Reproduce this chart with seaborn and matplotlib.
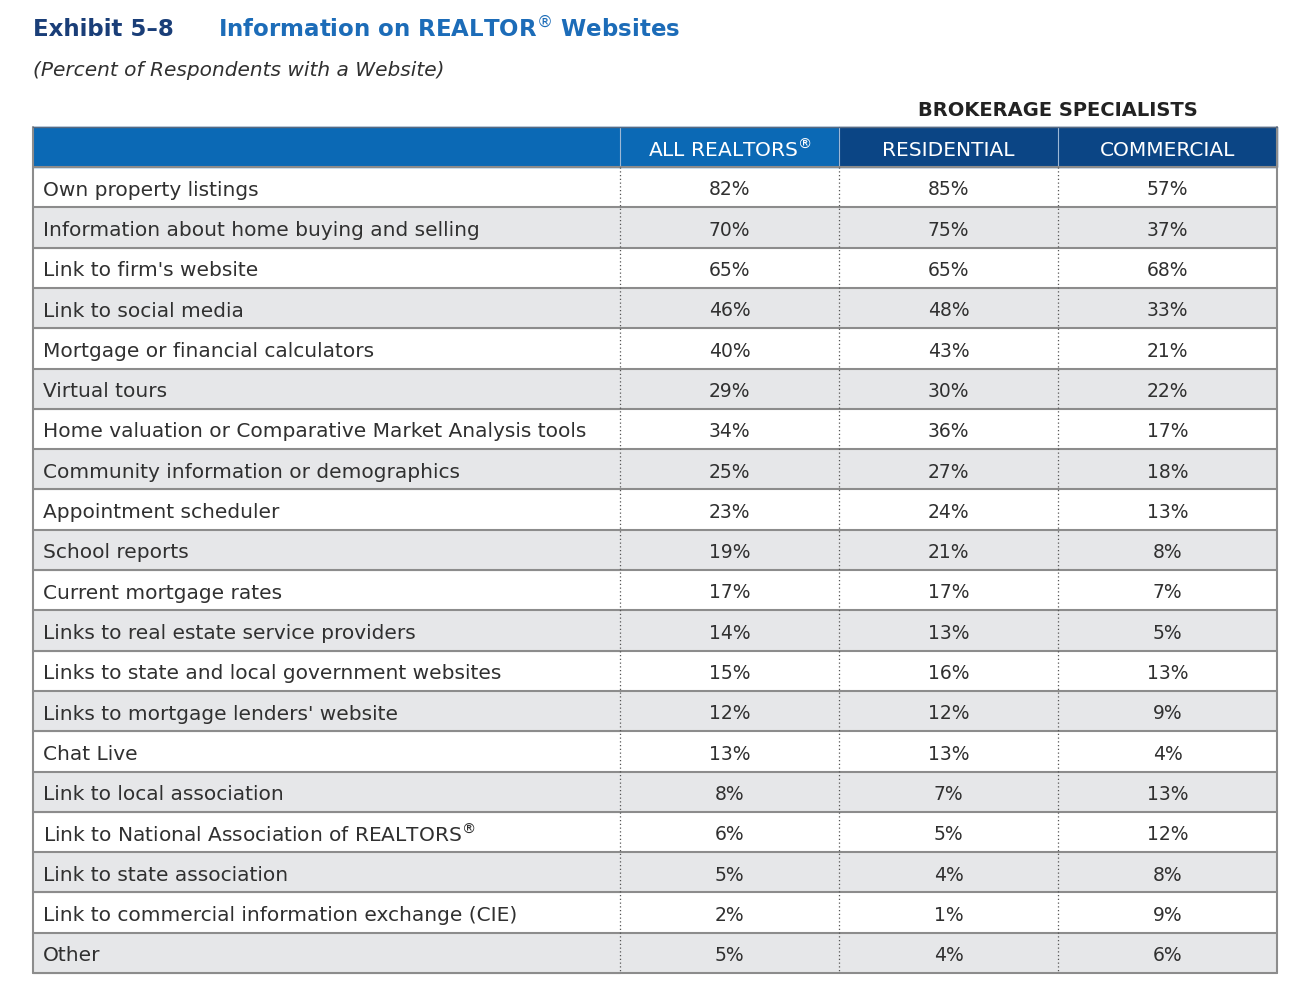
import numpy as np
import matplotlib
matplotlib.use("Agg")
import matplotlib.pyplot as plt
from matplotlib.colors import ListedColormap
from matplotlib.patches import Rectangle
import seaborn as sns

features = [
    "Own property listings",
    "Information about home buying and selling",
    "Link to firm's website",
    "Link to social media",
    "Mortgage or financial calculators",
    "Virtual tours",
    "Home valuation or Comparative Market Analysis tools",
    "Community information or demographics",
    "Appointment scheduler",
    "School reports",
    "Current mortgage rates",
    "Links to real estate service providers",
    "Links to state and local government websites",
    "Links to mortgage lenders' website",
    "Chat Live",
    "Link to local association",
    r"Link to National Association of REALTORS$^{\circledR}$",
    "Link to state association",
    "Link to commercial information exchange (CIE)",
    "Other",
]
all_realtors = [82, 70, 65, 46, 40, 29, 34, 25, 23, 19, 17, 14, 15, 12, 13, 8, 6, 5, 2, 5]
residential = [85, 75, 65, 48, 43, 30, 36, 27, 24, 21, 17, 13, 16, 12, 13, 7, 5, 4, 1, 4]
commercial = [57, 37, 68, 33, 21, 22, 17, 18, 13, 8, 7, 5, 13, 9, 4, 13, 12, 8, 9, 6]
columns = [r"ALL REALTORS$^{\circledR}$", "RESIDENTIAL", "COMMERCIAL"]

sns.set_style("white")
plt.rcParams["font.family"] = ["DejaVu Sans"]

TEXT = "#303030"
STRIPE = "#E6E7E9"
LINE = "#8C8C8C"
BRIGHT = "#0B69B5"
NAVY = "#0B4585"

W, H = 1300, 998
fig = plt.figure(figsize=(13, 9.98), dpi=100)

# table geometry in pixels
x0, xl, xr = 33, 620, 1277
cw = (xr - xl) / 3
y_head, y_body, y_end = 127, 167, 973
n = len(features)
rh = (y_end - y_body) / n

# value cells as a seaborn heatmap (stripe pattern + annotations)
values = np.array([all_realtors, residential, commercial]).T
stripes = np.array([[i % 2] * 3 for i in range(n)])
annot = np.array([[f"{v}%" for v in row] for row in values])
axh = fig.add_axes([xl / W, 1 - y_end / H, (xr - xl) / W, (y_end - y_body) / H])
sns.heatmap(stripes, cmap=ListedColormap(["white", STRIPE]), annot=annot, fmt="",
            cbar=False, ax=axh, xticklabels=False, yticklabels=False,
            annot_kws={"color": TEXT, "fontsize": 13.5}, vmin=0, vmax=1)
for t in axh.texts:
    t.set_y(t.get_position()[1] + 0.07)

# overlay in pixel coordinates
ov = fig.add_axes([0, 0, 1, 1])
ov.set_xlim(0, W)
ov.set_ylim(H, 0)
ov.set_axis_off()
ov.set_zorder(3)
ov.patch.set_visible(False)

# titles
ov.text(x0, 29, "Exhibit 5–8", fontsize=16.5, fontweight="bold", color="#1A3E78", va="center")
ov.text(218, 29, r"Information on REALTOR$^{\circledR}$ Websites", fontsize=16.5,
        fontweight="bold", color="#1C6CB8", va="center")
ov.text(x0, 70, "(Percent of Respondents with a Website)", fontsize=14.5,
        style="italic", color=TEXT, va="center")
ov.text(xl + 2 * cw, 110, "BROKERAGE SPECIALISTS", fontsize=14, fontweight="bold",
        color="#222222", ha="center", va="center")

# header row
ov.add_patch(Rectangle((x0, y_head), xl + cw - x0, y_body - y_head, color=BRIGHT, zorder=1))
ov.add_patch(Rectangle((xl + cw, y_head), 2 * cw, y_body - y_head, color=NAVY, zorder=1))
for j, c in enumerate(columns):
    ov.text(xl + cw * (j + 0.5), (y_head + y_body) / 2 + 3, c, color="white",
            fontsize=14.5, ha="center", va="center", zorder=2)
for j in range(3):
    ov.plot([xl + j * cw] * 2, [y_head, y_body], color="#9DB8D6", lw=0.8, zorder=2)

# label column
for i, f in enumerate(features):
    top = y_body + i * rh
    if i % 2:
        ov.add_patch(Rectangle((x0, top), xl - x0, rh, color=STRIPE, zorder=0))
    ov.text(x0 + 10, top + rh / 2 + 3, f, fontsize=14.5,
            color=TEXT, va="center", zorder=2)

# grid lines
for i in range(n + 1):
    y = y_body + i * rh
    ov.plot([x0, xr], [y, y], color=LINE, lw=1.5, zorder=2)
for j in range(3):
    ov.plot([xl + j * cw] * 2, [y_body, y_end], color="#555555", lw=0.9,
            linestyle=(0, (1, 2)), zorder=2)
ov.plot([x0, x0], [y_head, y_end], color=LINE, lw=1.5, zorder=2)
ov.plot([xr, xr], [y_head, y_end], color=LINE, lw=1.5, zorder=2)
ov.plot([x0, xr], [y_head, y_head], color="#5a6a80", lw=1, zorder=2)

fig.savefig("out.png", dpi=100)
